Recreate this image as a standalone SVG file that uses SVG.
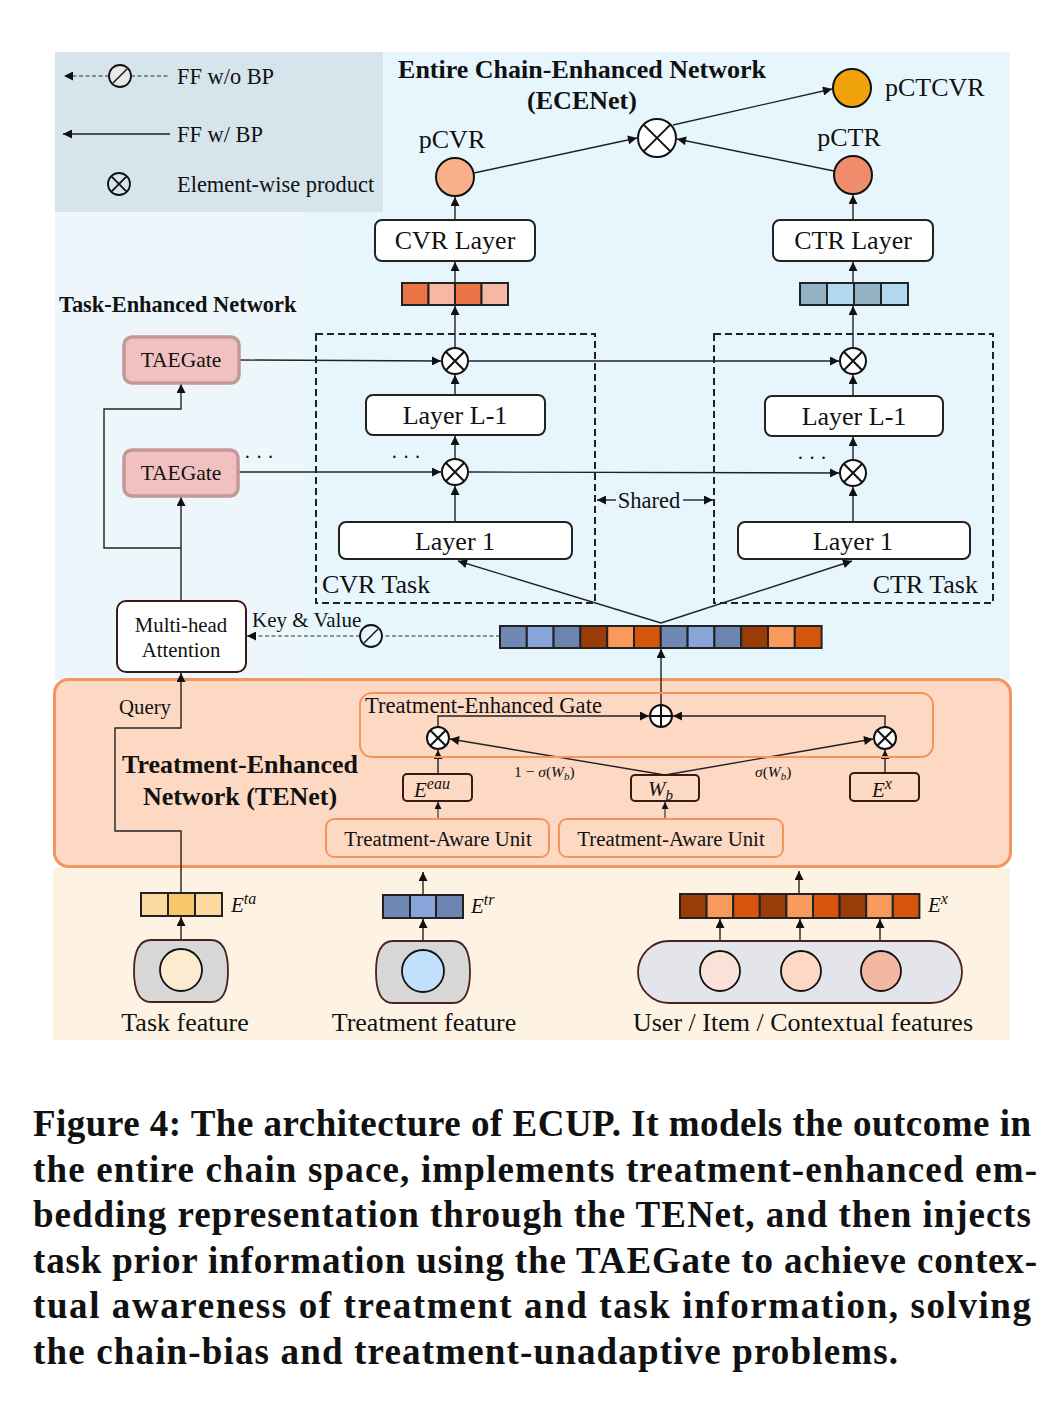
<svg xmlns="http://www.w3.org/2000/svg" width="1046" height="1406" viewBox="0 0 1046 1406">
<defs>
<marker id="ah" viewBox="0 0 10 10" refX="10" refY="5" markerWidth="11" markerHeight="9" markerUnits="userSpaceOnUse" orient="auto"><path d="M0,0 L10,5 L0,10 z" fill="#111"/></marker>
<marker id="as" viewBox="0 0 10 10" refX="10" refY="5" markerWidth="8" markerHeight="7" markerUnits="userSpaceOnUse" orient="auto"><path d="M0,0 L10,5 L0,10 z" fill="#111"/></marker>
</defs>
<style>
text{font-family:"Liberation Serif","Times New Roman",serif;fill:#111}
.b{font-weight:bold}
.m{font-style:italic}
.ln{stroke:#222;stroke-width:1.4;fill:none}
.arr{stroke:#222;stroke-width:1.4;fill:none;marker-end:url(#ah)}
.sarr{stroke:#333;stroke-width:1.2;fill:none;marker-end:url(#as)}
.dash{stroke:#333;stroke-width:1.2;fill:none;stroke-dasharray:4,2.5}
.box{fill:#fff;stroke:#222;stroke-width:2}
.task{fill:none;stroke:#222;stroke-width:2;stroke-dasharray:7,4}
.op{fill:#fff;stroke:#111;stroke-width:2}
.cell{stroke:#222;stroke-width:2}
.obox{fill:none;stroke:#f4955f;stroke-width:2}
.mbox{fill:none;stroke:#3a1a12;stroke-width:2}
.tae{fill:#f1c1c1;stroke:#c49898;stroke-width:3.5}
</style>

<!-- backgrounds -->
<rect x="55" y="52" width="955" height="628" fill="#e7f6fd"/>
<rect x="55" y="212" width="250" height="466" fill="#edf7fb"/>
<rect x="55" y="52" width="328" height="160" fill="#d6e4ec"/>
<rect x="53" y="868" width="957" height="172" fill="#fef3e2"/>
<rect x="54.5" y="679.5" width="956" height="187" rx="14" fill="#fdd9c4" stroke="#f4955f" stroke-width="3"/>

<!-- legend -->
<g id="legend">
<line class="dash" x1="109" y1="76" x2="64" y2="76" style="marker-end:url(#ah)"/>
<circle cx="120" cy="76" r="11" fill="#e8e8e8" stroke="#111" stroke-width="1.8"/>
<line x1="113" y1="83" x2="127" y2="69" stroke="#111" stroke-width="1.5"/>
<line class="dash" x1="131" y1="76" x2="170" y2="76"/>
<text x="177" y="84" font-size="22.4">FF w/o BP</text>
<line class="arr" x1="170" y1="134" x2="63" y2="134"/>
<text x="177" y="142" font-size="22.4">FF w/ BP</text>
<circle cx="119" cy="184" r="11" fill="none" stroke="#111" stroke-width="1.8"/>
<line x1="111.2" y1="176.2" x2="126.8" y2="191.8" stroke="#111" stroke-width="1.8"/>
<line x1="126.8" y1="176.2" x2="111.2" y2="191.8" stroke="#111" stroke-width="1.8"/>
<text x="177" y="192" font-size="22.4">Element-wise product</text>
</g>

<!-- titles -->
<text class="b" x="582" y="78" font-size="26" text-anchor="middle">Entire Chain-Enhanced Network</text>
<text class="b" x="582" y="109" font-size="26" text-anchor="middle">(ECENet)</text>
<text class="b" x="59" y="312" font-size="22.4">Task-Enhanced Network</text>
<text class="b" x="240" y="773" font-size="26" text-anchor="middle">Treatment-Enhanced</text>
<text class="b" x="240" y="805" font-size="26" text-anchor="middle">Network (TENet)</text>

<!-- connectors -->
<g id="connectors">
<line class="arr" x1="474" y1="173" x2="637" y2="138"/>
<line class="arr" x1="834" y1="171" x2="677" y2="139"/>
<line class="arr" x1="673" y1="125" x2="832" y2="89"/>
<line class="arr" x1="455" y1="220" x2="455" y2="197"/>
<line class="arr" x1="853" y1="220" x2="853" y2="195"/>
<line class="arr" x1="455" y1="283" x2="455" y2="262"/>
<line class="arr" x1="853" y1="283" x2="853" y2="262"/>
<line class="arr" x1="455" y1="348" x2="455" y2="306"/>
<line class="arr" x1="853" y1="348" x2="853" y2="306"/>
<line class="arr" x1="455" y1="395" x2="455" y2="375"/>
<line class="arr" x1="853" y1="396" x2="853" y2="375"/>
<line class="arr" x1="455" y1="459" x2="455" y2="436"/>
<line class="arr" x1="853" y1="460" x2="853" y2="437"/>
<line class="arr" x1="455" y1="522" x2="455" y2="486"/>
<line class="arr" x1="853" y1="522" x2="853" y2="487"/>
<!-- TAEGate rows -->
<line class="arr" x1="240" y1="360" x2="441" y2="361"/>
<line class="arr" x1="469" y1="361" x2="839" y2="361"/>
<line class="arr" x1="239" y1="472" x2="441" y2="472"/>
<line class="arr" x1="469" y1="472" x2="839" y2="473"/>
<!-- MHA to TAEGates -->
<line class="arr" x1="181" y1="601" x2="181" y2="497"/>
<polyline class="arr" points="181,548 104,548 104,409 181,409 181,384"/>
<!-- shared embedding to Layer 1s -->
<line class="arr" x1="661" y1="623" x2="458" y2="561"/>
<line class="arr" x1="661" y1="623" x2="852" y2="561"/>
<!-- shared arrows -->
<line class="arr" x1="616" y1="500" x2="597" y2="500"/>
<line class="arr" x1="683" y1="500" x2="713" y2="500"/>
<!-- key & value -->
<line class="dash" x1="500" y1="636" x2="382" y2="636"/>
<line class="dash" x1="360" y1="636" x2="247" y2="636" style="marker-end:url(#ah)"/>
<!-- TENet -->
<line class="arr" x1="661" y1="705" x2="661" y2="649"/>
<polyline class="arr" points="181,893 181,831 115,831 115,728 181,728 181,673"/>
<polyline class="arr" points="438,727 438,716 649,716"/>
<polyline class="arr" points="885,727 885,716 673,716"/>
<line class="arr" x1="665" y1="775" x2="450" y2="739"/>
<line class="arr" x1="665" y1="775" x2="873" y2="739"/>
<line class="arr" x1="438" y1="774" x2="438" y2="750"/>
<line class="arr" x1="885" y1="773" x2="885" y2="750"/>
<line class="sarr" x1="438" y1="819" x2="438" y2="802"/>
<line class="sarr" x1="665" y1="819" x2="665" y2="802"/>
<!-- bottom -->
<line class="arr" x1="181" y1="940" x2="181" y2="917"/>
<line class="arr" x1="423" y1="941" x2="423" y2="919"/>
<line class="arr" x1="423" y1="895" x2="423" y2="872"/>
<line class="arr" x1="799" y1="894" x2="799" y2="871"/>
<line class="arr" x1="720" y1="941" x2="720" y2="919"/>
<line class="arr" x1="800" y1="941" x2="800" y2="919"/>
<line class="arr" x1="880" y1="941" x2="880" y2="919"/>
</g>

<!-- outputs -->
<g id="pctcvr">
<circle cx="852" cy="88" r="19" fill="#f0a30a" stroke="#111" stroke-width="2"/>
<text x="885" y="96" font-size="26">pCTCVR</text>
</g>
<g id="product">
<circle class="op" cx="657" cy="138" r="19"/>
<line x1="643.6" y1="124.6" x2="670.4" y2="151.4" stroke="#111" stroke-width="2"/>
<line x1="670.4" y1="124.6" x2="643.6" y2="151.4" stroke="#111" stroke-width="2"/>
</g>
<g id="pcvr">
<circle cx="455" cy="177" r="19" fill="#f9b08a" stroke="#111" stroke-width="2"/>
<text x="452" y="148" font-size="26" text-anchor="middle">pCVR</text>
</g>
<g id="pctr">
<circle cx="853" cy="175" r="19" fill="#ef8c6c" stroke="#111" stroke-width="2"/>
<text x="849" y="146" font-size="26" text-anchor="middle">pCTR</text>
</g>
<g id="cvr-layer">
<rect class="box" x="375" y="220" width="160" height="41" rx="7"/>
<text x="455" y="249" font-size="26" text-anchor="middle">CVR Layer</text>
</g>
<g id="ctr-layer">
<rect class="box" x="773" y="220" width="160" height="41" rx="7"/>
<text x="853" y="249" font-size="26" text-anchor="middle">CTR Layer</text>
</g>
<g id="cvr-emb">
<rect class="cell" x="402" y="283" width="26.5" height="22" fill="#eb7447"/>
<rect class="cell" x="428.5" y="283" width="26.5" height="22" fill="#f6b8a0"/>
<rect class="cell" x="455" y="283" width="26.5" height="22" fill="#eb7447"/>
<rect class="cell" x="481.5" y="283" width="26.5" height="22" fill="#f6b8a0"/>
</g>
<g id="ctr-emb">
<rect class="cell" x="800" y="283" width="27" height="22" fill="#93b3c5"/>
<rect class="cell" x="827" y="283" width="27" height="22" fill="#b0d8ef"/>
<rect class="cell" x="854" y="283" width="27" height="22" fill="#93b3c5"/>
<rect class="cell" x="881" y="283" width="27" height="22" fill="#b0d8ef"/>
</g>

<!-- task boxes -->
<g id="cvr-task">
<rect class="task" x="316" y="334" width="279" height="269"/>
<text x="322" y="593" font-size="26">CVR Task</text>
</g>
<g id="ctr-task">
<rect class="task" x="714" y="334" width="279" height="269"/>
<text x="978" y="593" font-size="26" text-anchor="end">CTR Task</text>
</g>
<text x="649" y="508" font-size="22.5" text-anchor="middle">Shared</text>

<g id="cvr-mul2">
<circle class="op" cx="455" cy="361" r="13"/>
<line x1="445.8" y1="351.8" x2="464.2" y2="370.2" stroke="#111" stroke-width="2"/>
<line x1="464.2" y1="351.8" x2="445.8" y2="370.2" stroke="#111" stroke-width="2"/>
</g>
<g id="cvr-layerL1">
<rect class="box" x="366" y="395" width="179" height="40" rx="7"/>
<text x="455" y="424" font-size="26" text-anchor="middle">Layer L-1</text>
</g>
<g id="cvr-mul1">
<circle class="op" cx="455" cy="472" r="13"/>
<line x1="445.8" y1="462.8" x2="464.2" y2="481.2" stroke="#111" stroke-width="2"/>
<line x1="464.2" y1="462.8" x2="445.8" y2="481.2" stroke="#111" stroke-width="2"/>
<text x="406" y="464" font-size="20" text-anchor="middle">· · ·</text>
</g>
<g id="cvr-layer1">
<rect class="box" x="339" y="522" width="233" height="37" rx="7"/>
<text x="455" y="550" font-size="26" text-anchor="middle">Layer 1</text>
</g>
<g id="ctr-mul2">
<circle class="op" cx="853" cy="361" r="13"/>
<line x1="843.8" y1="351.8" x2="862.2" y2="370.2" stroke="#111" stroke-width="2"/>
<line x1="862.2" y1="351.8" x2="843.8" y2="370.2" stroke="#111" stroke-width="2"/>
</g>
<g id="ctr-layerL1">
<rect class="box" x="765" y="396" width="178" height="40" rx="7"/>
<text x="854" y="425" font-size="26" text-anchor="middle">Layer L-1</text>
</g>
<g id="ctr-mul1">
<circle class="op" cx="853" cy="473" r="13"/>
<line x1="843.8" y1="463.8" x2="862.2" y2="482.2" stroke="#111" stroke-width="2"/>
<line x1="862.2" y1="463.8" x2="843.8" y2="482.2" stroke="#111" stroke-width="2"/>
<text x="812" y="465" font-size="20" text-anchor="middle">· · ·</text>
</g>
<g id="ctr-layer1">
<rect class="box" x="738" y="522" width="232" height="37" rx="7"/>
<text x="853" y="550" font-size="26" text-anchor="middle">Layer 1</text>
</g>

<!-- TAEGates -->
<g id="taegate-2">
<rect class="tae" x="124" y="337" width="115" height="46" rx="8"/>
<text x="181" y="367" font-size="21.5" text-anchor="middle">TAEGate</text>
</g>
<g id="taegate-1">
<rect class="tae" x="124" y="450" width="114" height="46" rx="8"/>
<text x="181" y="480" font-size="21.5" text-anchor="middle">TAEGate</text>
<text x="259" y="464" font-size="20" text-anchor="middle">· · ·</text>
</g>
<g id="mha">
<rect x="117" y="601" width="129" height="71" rx="9" fill="#fff" stroke="#3a1a12" stroke-width="2"/>
<text x="181" y="632" font-size="20.8" text-anchor="middle">Multi-head</text>
<text x="181" y="657" font-size="20.8" text-anchor="middle">Attention</text>
</g>
<g id="kv">
<text x="252" y="627" font-size="21">Key &amp; Value</text>
<circle cx="371" cy="636" r="11" fill="none" stroke="#111" stroke-width="1.8"/>
<line x1="364" y1="643" x2="378" y2="629" stroke="#111" stroke-width="1.5"/>
</g>
<g id="shared-emb">
<rect class="cell" x="500" y="626" width="26.8" height="22" fill="#7088b4"/>
<rect class="cell" x="526.8" y="626" width="26.8" height="22" fill="#89a4d8"/>
<rect class="cell" x="553.6" y="626" width="26.8" height="22" fill="#6b84b0"/>
<rect class="cell" x="580.4" y="626" width="26.8" height="22" fill="#9a3c08"/>
<rect class="cell" x="607.2" y="626" width="26.8" height="22" fill="#f89a5c"/>
<rect class="cell" x="634" y="626" width="26.8" height="22" fill="#d5540e"/>
<rect class="cell" x="660.8" y="626" width="26.8" height="22" fill="#7088b4"/>
<rect class="cell" x="687.6" y="626" width="26.8" height="22" fill="#89a4d8"/>
<rect class="cell" x="714.4" y="626" width="26.8" height="22" fill="#6b84b0"/>
<rect class="cell" x="741.2" y="626" width="26.8" height="22" fill="#9a3c08"/>
<rect class="cell" x="768" y="626" width="26.8" height="22" fill="#f89a5c"/>
<rect class="cell" x="794.8" y="626" width="26.8" height="22" fill="#d5540e"/>
</g>

<!-- TENet -->
<text x="119" y="714" font-size="20.8">Query</text>
<g id="te-gate">
<rect class="obox" x="360" y="693" width="573" height="64" rx="12"/>
<text x="365" y="713" font-size="22.6">Treatment-Enhanced Gate</text>
</g>
<g id="gate-mul-left">
<circle class="op" cx="438" cy="738" r="11"/>
<line x1="430.2" y1="730.2" x2="445.8" y2="745.8" stroke="#111" stroke-width="2"/>
<line x1="445.8" y1="730.2" x2="430.2" y2="745.8" stroke="#111" stroke-width="2"/>
</g>
<g id="gate-add">
<circle class="op" cx="661" cy="716" r="11"/>
<line x1="650" y1="716" x2="672" y2="716" stroke="#111" stroke-width="2"/>
<line x1="661" y1="705" x2="661" y2="727" stroke="#111" stroke-width="2"/>
</g>
<g id="gate-mul-right">
<circle class="op" cx="885" cy="738" r="11"/>
<line x1="877.2" y1="730.2" x2="892.8" y2="745.8" stroke="#111" stroke-width="2"/>
<line x1="892.8" y1="730.2" x2="877.2" y2="745.8" stroke="#111" stroke-width="2"/>
</g>
<text x="514" y="777" font-size="15.5">1 − <tspan class="m">σ</tspan>(<tspan class="m">W</tspan><tspan class="m" font-size="11" dy="3">b</tspan><tspan dy="-3">)</tspan></text>
<text x="755" y="777" font-size="15.5"><tspan class="m">σ</tspan>(<tspan class="m">W</tspan><tspan class="m" font-size="11" dy="3">b</tspan><tspan dy="-3">)</tspan></text>
<g id="wb">
<rect class="mbox" x="631" y="775" width="68" height="26" rx="4"/>
<text x="648" y="796" font-size="21" class="m">W<tspan font-size="15" dy="4">b</tspan></text>
</g>
<g id="eeau">
<rect class="mbox" x="403" y="774" width="69" height="27" rx="4"/>
<text x="414" y="797" font-size="21" class="m">E<tspan font-size="16" dy="-8">eau</tspan></text>
</g>
<g id="ex-box">
<rect class="mbox" x="850" y="773" width="69" height="28" rx="4"/>
<text x="872" y="797" font-size="21" class="m">E<tspan font-size="16" dy="-8">x</tspan></text>
</g>
<g id="tau-1">
<rect class="obox" x="326" y="819" width="223" height="38" rx="8"/>
<text x="438" y="846" font-size="20.8" text-anchor="middle">Treatment-Aware Unit</text>
</g>
<g id="tau-2">
<rect class="obox" x="559" y="819" width="224" height="38" rx="8"/>
<text x="671" y="846" font-size="20.8" text-anchor="middle">Treatment-Aware Unit</text>
</g>

<!-- inputs -->
<g id="eta">
<rect class="cell" x="141" y="893" width="27" height="23" fill="#fbd9a0"/>
<rect class="cell" x="168" y="893" width="27" height="23" fill="#f8c76b"/>
<rect class="cell" x="195" y="893" width="27" height="23" fill="#fbd9a0"/>
<text x="231" y="912" font-size="21" class="m">E<tspan font-size="16" dy="-8">ta</tspan></text>
</g>
<g id="task-feature">
<path d="M151,940 H211 Q228,940 228,971 Q228,1002 211,1002 H151 Q134,1002 134,971 Q134,940 151,940 Z" fill="#d7d7d7" stroke="#4a2020" stroke-width="1.8"/>
<circle cx="181" cy="970" r="21" fill="#fdebd0" stroke="#111" stroke-width="1.8"/>
<text x="185" y="1031" font-size="26" text-anchor="middle">Task feature</text>
</g>
<g id="etr">
<rect class="cell" x="383" y="895" width="27" height="23" fill="#7088b4"/>
<rect class="cell" x="410" y="895" width="26" height="23" fill="#89a4d8"/>
<rect class="cell" x="436" y="895" width="27" height="23" fill="#6b84b0"/>
<text x="471" y="913" font-size="21" class="m">E<tspan font-size="16" dy="-8">tr</tspan></text>
</g>
<g id="treatment-feature">
<path d="M393,941 H453 Q470,941 470,972 Q470,1003 453,1003 H393 Q376,1003 376,972 Q376,941 393,941 Z" fill="#d7d7d7" stroke="#4a2020" stroke-width="1.8"/>
<circle cx="423" cy="971" r="21" fill="#c0e0fc" stroke="#111" stroke-width="1.8"/>
<text x="424" y="1031" font-size="26" text-anchor="middle">Treatment feature</text>
</g>
<g id="ex">
<rect class="cell" x="680" y="894" width="26.6" height="24" fill="#9a3c08"/>
<rect class="cell" x="706.6" y="894" width="26.6" height="24" fill="#f89a5c"/>
<rect class="cell" x="733.2" y="894" width="26.6" height="24" fill="#d5540e"/>
<rect class="cell" x="759.8" y="894" width="26.6" height="24" fill="#9a3c08"/>
<rect class="cell" x="786.4" y="894" width="26.6" height="24" fill="#f89a5c"/>
<rect class="cell" x="813" y="894" width="26.6" height="24" fill="#d5540e"/>
<rect class="cell" x="839.6" y="894" width="26.6" height="24" fill="#9a3c08"/>
<rect class="cell" x="866.2" y="894" width="26.6" height="24" fill="#f89a5c"/>
<rect class="cell" x="892.8" y="894" width="26.6" height="24" fill="#d5540e"/>
<text x="928" y="912" font-size="21" class="m">E<tspan font-size="16" dy="-8">x</tspan></text>
</g>
<g id="user-features">
<rect x="638" y="941" width="324" height="62" rx="31" fill="#e4e5ea" stroke="#4a2020" stroke-width="1.8"/>
<circle cx="720" cy="971" r="20" fill="#fbe2d9" stroke="#111" stroke-width="1.8"/>
<circle cx="801" cy="971" r="20" fill="#fdd8c4" stroke="#111" stroke-width="1.8"/>
<circle cx="881" cy="971" r="20" fill="#f3b8a2" stroke="#111" stroke-width="1.8"/>
<text x="803" y="1031" font-size="26" text-anchor="middle">User / Item / Contextual features</text>
</g>

<!-- caption -->
<g id="caption">
<text class="b" x="33" y="1136" font-size="37" textLength="998" lengthAdjust="spacing">Figure 4: The architecture of ECUP. It models the outcome in</text>
<text class="b" x="33" y="1182" font-size="37" textLength="1004" lengthAdjust="spacing">the entire chain space, implements treatment-enhanced em-</text>
<text class="b" x="33" y="1227" font-size="37" textLength="998" lengthAdjust="spacing">bedding representation through the TENet, and then injects</text>
<text class="b" x="33" y="1273" font-size="37" textLength="1004" lengthAdjust="spacing">task prior information using the TAEGate to achieve contex-</text>
<text class="b" x="33" y="1318" font-size="37" textLength="998" lengthAdjust="spacing">tual awareness of treatment and task information, solving</text>
<text class="b" x="33" y="1364" font-size="37" textLength="865" lengthAdjust="spacing">the chain-bias and treatment-unadaptive problems.</text>
</g>
</svg>
